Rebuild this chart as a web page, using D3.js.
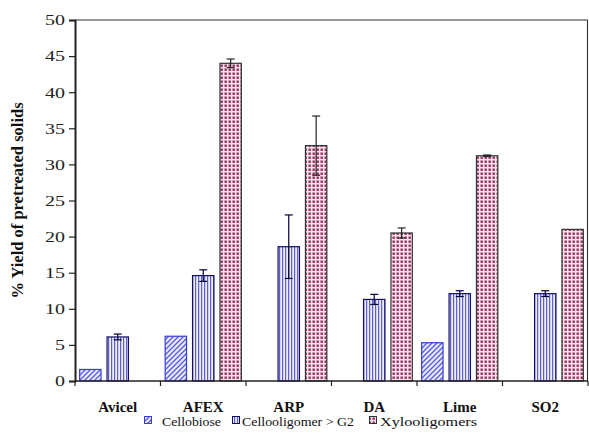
<!DOCTYPE html>
<html>
<head>
<meta charset="utf-8">
<script src="https://cdn.jsdelivr.net/npm/d3@7"></script>
<style>
  html, body { margin: 0; padding: 0; background: #fff; }
  svg { display: block; font-family: "Liberation Serif", "Times New Roman", serif; }
</style>
</head>
<body>
<svg id="chart" width="589" height="435"></svg>
<script>
// Pretreatment categories and series
const categories = ["Avicel", "AFEX", "ARP", "DA", "Lime", "SO2"];
const seriesNames = ["Cellobiose", "Cellooligomer > G2", "Xylooligomers"];

// Yield values (% of pretreated solids); null = not reported
const cellobiose     = [1.6, 6.2, null, null, 5.3, null];
const cellooligomer  = [6.1, 14.6, 18.6, 11.3, 12.1, 12.1];
const xylooligomers  = [null, 44.0, 32.6, 20.5, 31.2, 21.0];

// Error bar half-widths
const cellobioseErr    = [0, 0, 0, 0, 0, 0];
const cellooligomerErr = [0.4, 0.8, 4.4, 0.7, 0.4, 0.4];
const xylooligomerErr  = [0, 0.6, 4.1, 0.7, 0.1, 0];

const yTicks = [0, 5, 10, 15, 20, 25, 30, 35, 40, 45, 50];

const seriesValues = [cellobiose, cellooligomer, xylooligomers];
const seriesErrors = [cellobioseErr, cellooligomerErr, xylooligomerErr];

const margin = { left: 75, right: 1, top: 20, bottom: 54 };
const W = 589, H = 435;
const svg = d3.select("#chart");

// Fill patterns
const defs = svg.append("defs");
const p1 = defs.append("pattern").attr("id", "pat-cb")
  .attr("patternUnits", "userSpaceOnUse").attr("width", 5).attr("height", 5);
p1.append("rect").attr("width", 5).attr("height", 5).attr("fill", "#e8e8fc");
p1.append("path").attr("d", "M-1,6 L6,-1 M-1,1 L1,-1 M4,6 L6,4")
  .attr("stroke", "#5a5ae0").attr("stroke-width", 1.3);

const p2 = defs.append("pattern").attr("id", "pat-co")
  .attr("patternUnits", "userSpaceOnUse").attr("width", 3).attr("height", 3);
p2.append("rect").attr("width", 3).attr("height", 3).attr("fill", "#ececfa");
p2.append("rect").attr("x", 0).attr("width", 1.2).attr("height", 3).attr("fill", "#6060c8");

const p3 = defs.append("pattern").attr("id", "pat-xo")
  .attr("patternUnits", "userSpaceOnUse").attr("width", 4).attr("height", 4);
p3.append("rect").attr("width", 4).attr("height", 4).attr("fill", "#f3e4ec");
p3.append("rect").attr("x", 0.5).attr("y", 0.5).attr("width", 2.4).attr("height", 2.4)
  .attr("fill", "#9a3060");

const fills = ["url(#pat-cb)", "url(#pat-co)", "url(#pat-xo)"];
const strokes = ["#3a3ad8", "#10106a", "#333333"];
const errColors = ["#000", "#000033", "#222"];

const x0 = d3.scaleBand().domain(categories)
  .range([margin.left, W - margin.right]).padding(0);
const x1 = d3.scaleBand().domain(seriesNames)
  .range([0, x0.bandwidth()]).paddingInner(0.22).paddingOuter(0.17);
const y = d3.scaleLinear().domain([0, 50]).range([H - margin.bottom, margin.top]);

// Plot frame (top and right)
svg.append("path")
  .attr("d", `M${margin.left},${margin.top} H${W - margin.right - 0.5} V${y(0)}`)
  .attr("fill", "none").attr("stroke", "#333").attr("stroke-width", 1.1);

// Bars
seriesNames.forEach((s, si) => {
  const vals = seriesValues[si];
  const g = svg.append("g");
  categories.forEach((c, ci) => {
    const v = vals[ci];
    if (v == null) return;
    g.append("rect")
      .attr("x", x0(c) + x1(s))
      .attr("y", y(v))
      .attr("width", x1.bandwidth())
      .attr("height", y(0) - y(v))
      .attr("fill", fills[si])
      .attr("stroke", strokes[si])
      .attr("stroke-width", 1.2);
    const e = seriesErrors[si][ci];
    if (e > 0) {
      const cx = x0(c) + x1(s) + x1.bandwidth() / 2;
      const eg = g.append("g").attr("stroke", errColors[si]).attr("stroke-width", 1.2);
      eg.append("line").attr("x1", cx).attr("x2", cx).attr("y1", y(v + e)).attr("y2", y(v - e));
      eg.append("line").attr("x1", cx - 4).attr("x2", cx + 4).attr("y1", y(v + e)).attr("y2", y(v + e));
      eg.append("line").attr("x1", cx - 4).attr("x2", cx + 4).attr("y1", y(v - e)).attr("y2", y(v - e));
    }
  });
});

// Y axis
const yAxis = svg.append("g")
  .attr("transform", `translate(${margin.left},0)`)
  .call(d3.axisLeft(y).tickValues(yTicks).tickSize(6).tickPadding(4));
yAxis.select(".domain").attr("stroke", "#222").attr("stroke-width", 2);
yAxis.selectAll(".tick line").attr("stroke", "#222").attr("stroke-width", 1.2);
yAxis.selectAll(".tick text")
  .attr("font-size", 15).attr("fill", "#222")
  .attr("font-family", "Liberation Serif, serif")
  .attr("textLength", d => String(d).length * 10)
  .attr("lengthAdjust", "spacingAndGlyphs");

// X axis with ticks at category boundaries
const xAxisG = svg.append("g").attr("transform", `translate(0,${y(0)})`);
xAxisG.append("line").attr("x1", margin.left).attr("x2", W - margin.right)
  .attr("stroke", "#222").attr("stroke-width", 1.5);
const bounds = categories.map(c => x0(c)).concat([x0(categories[categories.length - 1]) + x0.bandwidth()]);
xAxisG.selectAll("line.tk").data(bounds).join("line").attr("class", "tk")
  .attr("x1", d => d).attr("x2", d => d).attr("y1", 0).attr("y2", 5)
  .attr("stroke", "#222").attr("stroke-width", 1.2);
xAxisG.selectAll("text").data(categories).join("text")
  .attr("x", d => x0(d) + x0.bandwidth() / 2)
  .attr("y", 31)
  .attr("text-anchor", "middle")
  .attr("font-size", 15).attr("font-weight", "bold").attr("fill", "#111")
  .text(d => d);

// Y axis title
svg.append("text")
  .attr("transform", `translate(23,${(margin.top + y(0)) / 2}) rotate(-90)`)
  .attr("text-anchor", "middle")
  .attr("font-size", 16.5).attr("font-weight", "bold").attr("fill", "#111")
  .text("% Yield of pretreated solids");

// Legend
const legendSwatchX = [144, 232, 369];
const legendTextX = [162, 242, 380];
const legendTextW = [59, 112, 97];
const legend = svg.append("g").attr("transform", "translate(0,421)");
seriesNames.forEach((s, i) => {
  legend.append("rect").attr("x", legendSwatchX[i] + 0.5).attr("y", -4.5).attr("width", 7).attr("height", 7)
    .attr("fill", fills[i]).attr("stroke", strokes[i]).attr("stroke-width", 1);
  legend.append("text").attr("x", legendTextX[i]).attr("y", 4.5)
    .attr("font-size", 13.5).attr("fill", "#111")
    .attr("textLength", legendTextW[i]).attr("lengthAdjust", "spacingAndGlyphs")
    .text(s);
});
</script>
</body>
</html>
